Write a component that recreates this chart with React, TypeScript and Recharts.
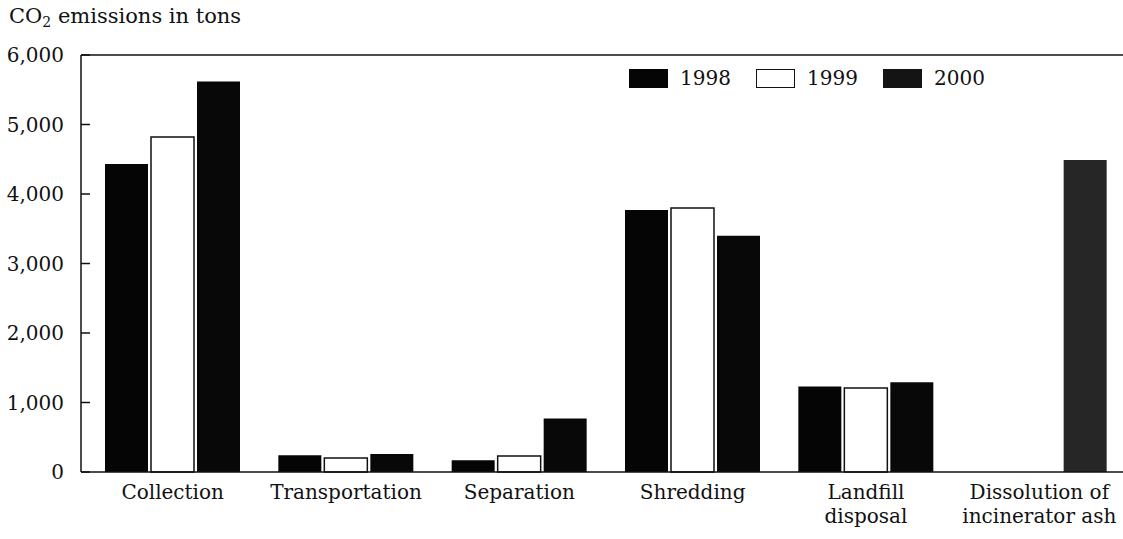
import { BarChart, Bar, XAxis, YAxis, ReferenceLine, Cell } from "recharts";

const categories = [
  "Collection",
  "Transportation",
  "Separation",
  "Shredding",
  "Landfill\ndisposal",
  "Dissolution of\nincinerator ash",
];
const y1998 = [4430, 240, 170, 3770, 1230, 0];
const y1999 = [4820, 200, 230, 3800, 1210, 0];
const y2000 = [5620, 260, 770, 3400, 1290, 4490];
const yTicks = [0, 1000, 2000, 3000, 4000, 5000, 6000];
const years = ["1998", "1999", "2000"];

const data = categories.map((name, i) => ({
  name,
  y1998: y1998[i],
  y1999: y1999[i],
  y2000: y2000[i],
}));

const FONT = "'DejaVu Serif', 'Liberation Serif', serif";
const FS = 20;

const XTick = (props: any) => {
  const { x, y, payload } = props;
  const lines = String(payload.value).split("\n");
  return (
    <text x={x} y={y} textAnchor="middle" fontFamily={FONT} fontSize={FS} fill="#111">
      {lines.map((l, i) => (
        <tspan key={i} x={x} dy={i === 0 ? 19 : 24}>
          {l}
        </tspan>
      ))}
    </text>
  );
};

const swatch = [
  { fill: "#050505", stroke: "#050505" },
  { fill: "#fff", stroke: "#111" },
  { fill: "#141414", stroke: "#141414" },
];

export default function App() {
  return (
    <div style={{ position: "absolute", left: 0, top: 0, width: 1123, height: 539, background: "#fff" }}>
      <div
        style={{
          position: "absolute",
          left: 9,
          top: 4,
          fontFamily: FONT,
          fontSize: 21,
          color: "#111",
          whiteSpace: "nowrap",
        }}
      >
        CO<sub style={{ fontSize: 14, verticalAlign: "-4px" }}>2</sub> emissions in tons
      </div>
      <div
        style={{
          position: "absolute",
          left: 629,
          top: 66,
          display: "flex",
          fontFamily: FONT,
          fontSize: FS,
          color: "#111",
          zIndex: 2,
        }}
      >
        {years.map((yr, i) => (
          <div key={yr} style={{ display: "flex", alignItems: "center", width: 127 }}>
            <span
              style={{
                display: "inline-block",
                width: 37,
                height: 17,
                background: swatch[i].fill,
                border: `1.5px solid ${swatch[i].stroke}`,
                marginRight: 12,
              }}
            />
            {yr}
          </div>
        ))}
      </div>
      <BarChart
        width={1126}
        height={539}
        data={data}
        margin={{ top: 55, right: 0, left: 0, bottom: 0 }}
        barSize={43}
        barGap={3}
      >
        <XAxis
          dataKey="name"
          height={67}
          tickLine={false}
          axisLine={{ stroke: "#111", strokeWidth: 1.5 }}
          tick={<XTick />}
          interval={0}
          padding={{ left: 5, right: 0 }}
        />
        <YAxis
          width={81}
          domain={[0, 6000]}
          ticks={yTicks}
          interval={0}
          tickSize={-9}
          tickMargin={26}
          axisLine={{ stroke: "#111", strokeWidth: 1.5 }}
          tickLine={{ stroke: "#111", strokeWidth: 1.5 }}
          tickFormatter={(v: number) => v.toLocaleString("en-US")}
          tick={{ fontFamily: FONT, fontSize: FS, fill: "#111" }}
        />
        <ReferenceLine y={6000} stroke="#111" strokeWidth={1.5} />
        <Bar dataKey="y1998" fill="#050505" isAnimationActive={false} />
        <Bar dataKey="y1999" fill="#fff" stroke="#111" strokeWidth={1.5} isAnimationActive={false} />
        <Bar dataKey="y2000" fill="#080808" isAnimationActive={false}>
          {data.map((d, i) => (
            <Cell key={i} fill={i === 5 ? "#262626" : "#080808"} />
          ))}
        </Bar>
      </BarChart>
    </div>
  );
}
